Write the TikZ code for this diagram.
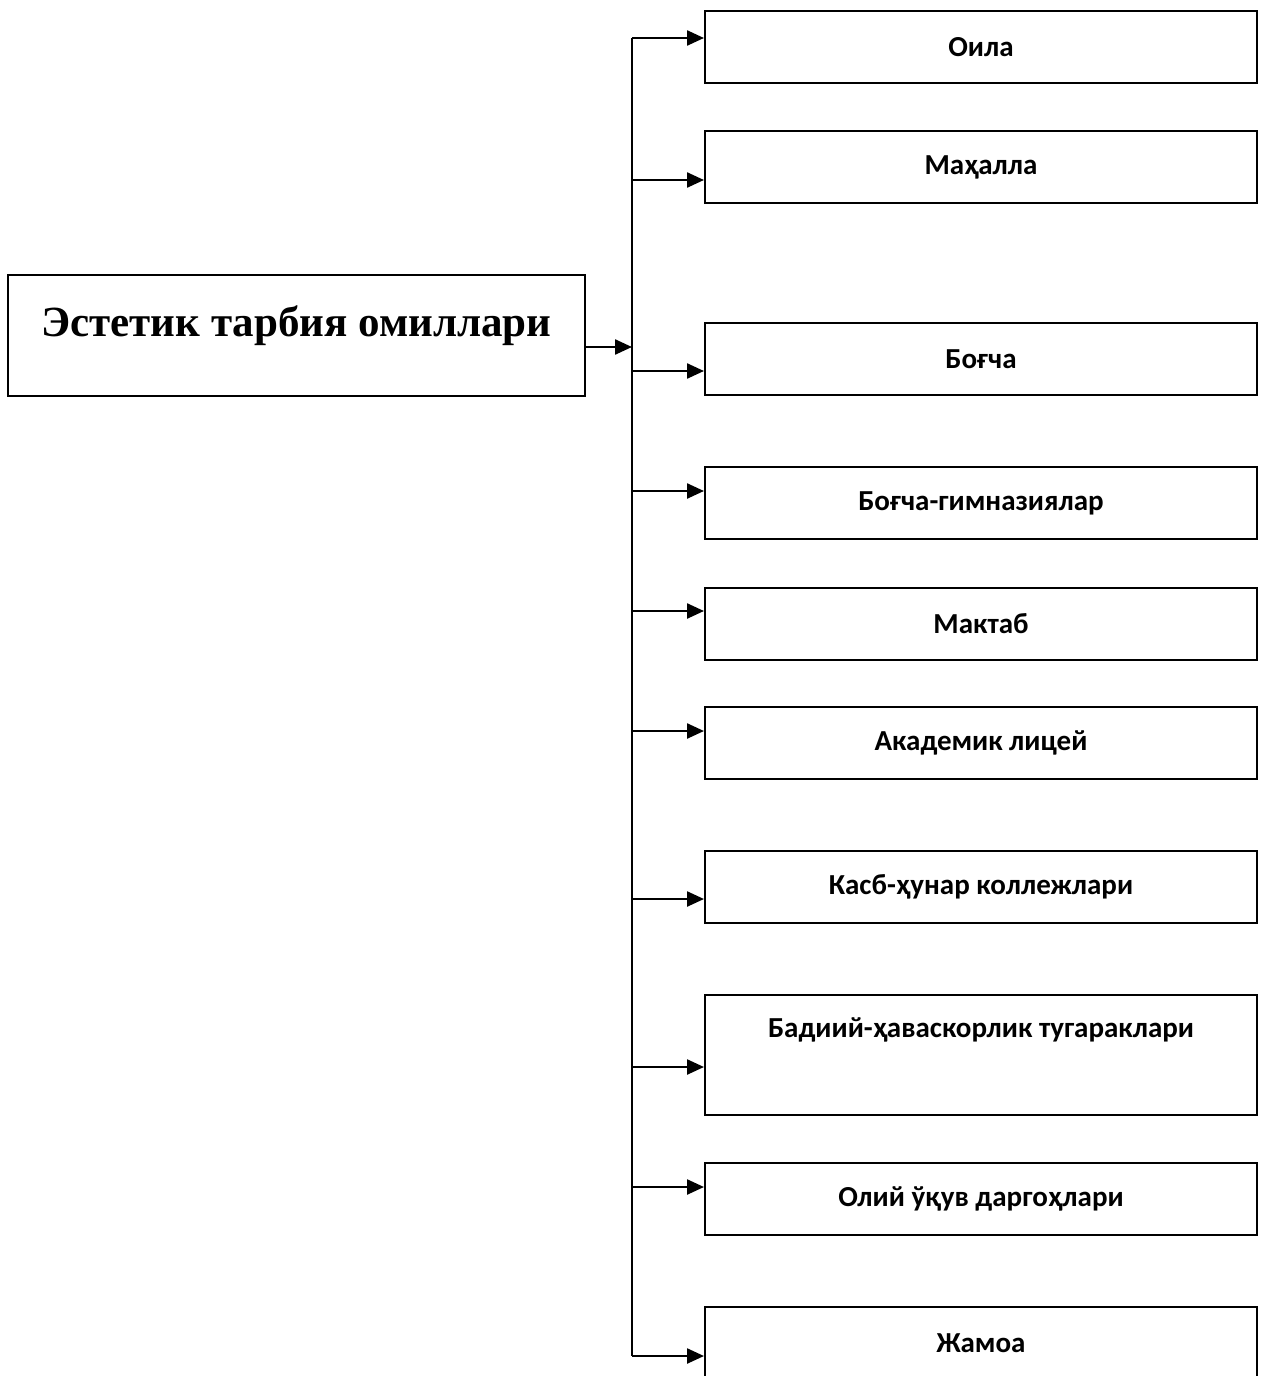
\documentclass[tikz,border=0pt]{standalone}
\usepackage{fontspec}
\setmainfont{Liberation Serif}
\newfontfamily\calibrifont{Carlito}
\usetikzlibrary{arrows.meta}

\begin{document}
\begin{tikzpicture}[x=1pt, y=-1pt,
    bosh/.style={rectangle, draw, line width=2pt, minimum width=577pt, minimum height=121pt,
                 inner sep=0pt, font=\fontsize{43}{50}\selectfont\bfseries, text depth=28pt},
    quti/.style={rectangle, draw, line width=2pt, minimum width=552pt, minimum height=72pt,
                 inner sep=0pt, font=\calibrifont\fontsize{29}{34}\selectfont\bfseries},
    strelka/.style={-{Triangle[length=17pt, width=15pt]}, line width=2.4pt}
  ]
  \path[use as bounding box, clip] (0,0) rectangle (1265,1376);

  \node[bosh] (omil) at (296.5,335.5) {Эстетик тарбия омиллари};

  \node[quti] (q1) at (981,47) {Оила};
  \node[quti] (q2) at (981,167) {Маҳалла};
  \node[quti] (q3) at (981,359) {Боғча};
  \node[quti] (q4) at (981,503) {Боғча-гимназиялар};
  \node[quti] (q5) at (981,624) {Мактаб};
  \node[quti] (q6) at (981,743) {Академик лицей};
  \node[quti] (q7) at (981,887) {Касб-ҳунар коллежлари};
  \node[quti, minimum height=120pt, text depth=54pt] (q8) at (981,1055) {Бадиий-ҳаваскорлик тугараклари};
  \node[quti] (q9) at (981,1199) {Олий ўқув даргоҳлари};
  \node[quti] (q10) at (981,1343) {Жамоа};

  % taqsimlash chizig'i
  \coordinate (m) at (632,347);
  \coordinate (t1) at (632,38);
  \coordinate (t2) at (632,180);
  \coordinate (t3) at (632,371);
  \coordinate (t4) at (632,491);
  \coordinate (t5) at (632,611);
  \coordinate (t6) at (632,731);
  \coordinate (t7) at (632,899);
  \coordinate (t8) at (632,1067);
  \coordinate (t9) at (632,1187);
  \coordinate (t10) at (632,1356);

  \draw[line width=2.4pt] (t1) -- (t10);
  \draw[strelka] (omil.east |- m) -- (m);

  \draw[strelka] (t1) -- (t1 -| q1.west);
  \draw[strelka] (t2) -- (t2 -| q2.west);
  \draw[strelka] (t3) -- (t3 -| q3.west);
  \draw[strelka] (t4) -- (t4 -| q4.west);
  \draw[strelka] (t5) -- (t5 -| q5.west);
  \draw[strelka] (t6) -- (t6 -| q6.west);
  \draw[strelka] (t7) -- (t7 -| q7.west);
  \draw[strelka] (t8) -- (t8 -| q8.west);
  \draw[strelka] (t9) -- (t9 -| q9.west);
  \draw[strelka] (t10) -- (t10 -| q10.west);
\end{tikzpicture}
\end{document}
